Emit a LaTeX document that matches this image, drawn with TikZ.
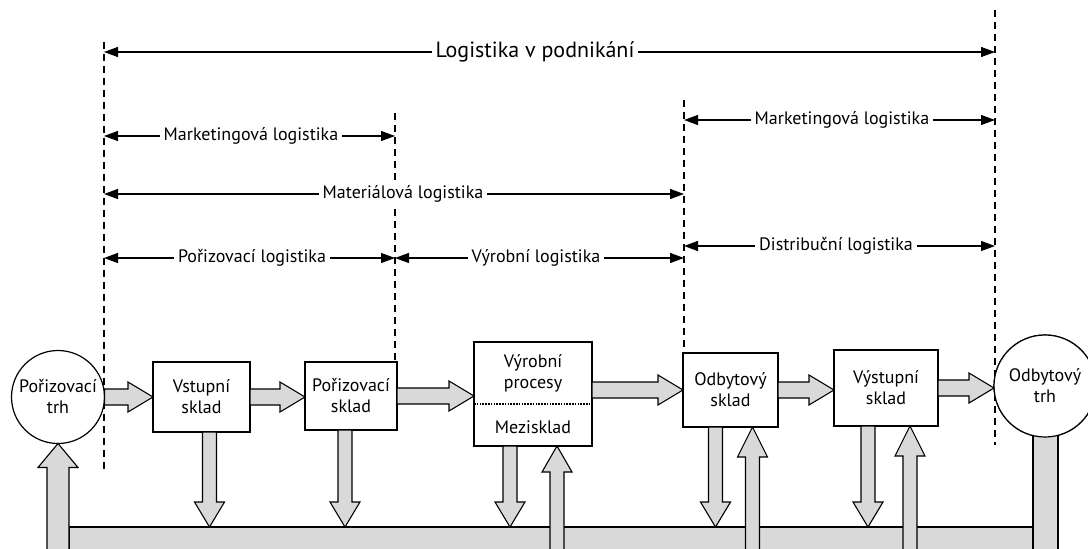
\documentclass[tikz,border=0pt]{standalone}
\usepackage{fontspec}
\setmainfont{PT Sans}
\usetikzlibrary{arrows.meta,calc,positioning}
\definecolor{cffffff}{RGB}{255,255,255}
\definecolor{cd9d9d9}{RGB}{217,217,217}

\newcommand{\fatarrow}[5]{%
  \coordinate (fas) at (#1); \coordinate (fae) at (#2);
  \coordinate (fab) at ($(fae)!#5!(fas)$);
  \path[fat]
  ($(fas)!#3!90:(fae)$) -- ($(fab)!#3!90:(fae)$) -- ($(fab)!#4!90:(fae)$) --
  (fae) -- ($(fab)!#4!-90:(fae)$) -- ($(fab)!#3!-90:(fae)$) --
  ($(fas)!#3!-90:(fae)$) -- cycle;}

\begin{document}
\begin{tikzpicture}[x=1pt, y=-1pt, inner sep=0pt, outer sep=0pt,
  fat/.style={draw=black,fill=cd9d9d9,line width=1.1pt,line join=miter},
  sklad/.style={draw=black,fill=cffffff,line width=1.2pt,align=center,
    font=\fontsize{18}{21}\selectfont},
  trh/.style={circle,draw=black,fill=cffffff,line width=1.2pt,align=center,
    font=\fontsize{18}{21}\selectfont},
  dimlbl/.style={fill=cffffff,inner sep=4pt,font=\fontsize{18}{21}\selectfont},
  dim/.style={draw=black,line width=1.1pt,-{Triangle[length=14pt,width=10pt]}},
  vline/.style={draw=black,line width=1.1pt,dash pattern=on 7pt off 5pt}]
  \useasboundingbox (0,0) rectangle (1088,549);
  \coordinate (dA) at (104,0);
  \coordinate (dB) at (395,0);
  \coordinate (dC) at (684,0);
  \coordinate (dD) at (995,0);
  \coordinate (bartop) at (0,527);
  \coordinate (bot) at (0,580);
  \path[vline] (dA |- 0,42) -- (dA |- 0,470);
  \path[vline] (dB |- 0,113) -- (dB |- 0,362);
  \path[vline] (dC |- 0,100) -- (dC |- 0,353);
  \path[vline] (dD |- 0,10) -- (dD |- 0,445);

  \node[dimlbl,font=\fontsize{22}{26}\selectfont] (lvp) at (535,52) {Logistika v podnikání};
  \draw[dim] (lvp.west) -- (dA |- lvp.west);
  \draw[dim] (lvp.east) -- (dD |- lvp.east);
  \node[dimlbl] (mkl1) at (251,136) {Marketingová logistika};
  \draw[dim] (mkl1.west) -- (dA |- mkl1.west);
  \draw[dim] (mkl1.east) -- (dB |- mkl1.east);
  \node[dimlbl] (mkl2) at (842,120) {Marketingová logistika};
  \draw[dim] (mkl2.west) -- (dC |- mkl2.west);
  \draw[dim] (mkl2.east) -- (dD |- mkl2.east);
  \node[dimlbl] (mat) at (403,194) {Materiálová logistika};
  \draw[dim] (mat.west) -- (dA |- mat.west);
  \draw[dim] (mat.east) -- (dC |- mat.east);
  \node[dimlbl] (por) at (252,258) {Pořizovací logistika};
  \draw[dim] (por.west) -- (dA |- por.west);
  \draw[dim] (por.east) -- (dB |- por.east);
  \node[dimlbl] (vyrl) at (536,258) {Výrobní logistika};
  \draw[dim] (vyrl.west) -- (dB |- vyrl.west);
  \draw[dim] (vyrl.east) -- (dC |- vyrl.east);
  \node[dimlbl] (dis) at (836,246) {Distribuční logistika};
  \draw[dim] (dis.west) -- (dC |- dis.west);
  \draw[dim] (dis.east) -- (dD |- dis.east);

  \node[trh,minimum size=93pt] (trhA) at (58,397) {Pořizovací\\trh};
  \node[trh,minimum size=102pt] (trhB) at (1045,386) {Odbytový\\trh};
  \node[sklad,minimum width=97pt,minimum height=70pt] (vst) at (201.5,397) {Vstupní\\sklad};
  \node[sklad,minimum width=92pt,minimum height=68pt] (pors) at (351,396) {Pořizovací\\sklad};
  \node[sklad,minimum width=118pt,minimum height=104pt] (vyr) at (533,394) {};
  \node[sklad,draw=none,fill=none] (vyrA) at (533,373) {Výrobní\\procesy};
  \node[sklad,draw=none,fill=none] (vyrB) at (533,427) {Mezisklad};
  \draw[line width=1.6pt,dash pattern=on 1.6pt off 1.2pt] (vyr.west |- 0,404) -- (vyr.east |- 0,404);
  \node[sklad,minimum width=95pt,minimum height=74pt] (odb) at (730.5,390) {Odbytový\\sklad};
  \node[sklad,minimum width=104pt,minimum height=76pt] (vys) at (886,388) {Výstupní\\sklad};

  \path[fat] (69,527) rectangle (1035,580);
  \path[fat] ($(trhB.south)+(-12,-4)$) rectangle ($(trhB.south |- bot)+(13,0)$);
  \node[trh,minimum size=102pt] at (trhB) {Odbytový\\trh};
  \fatarrow{trhA.south |- bot}{trhA.south}{11pt}{20pt}{24pt}

  \fatarrow{trhA.east}{trhA.east -| vst.west}{8pt}{15pt}{25pt}
  \fatarrow{vst.east}{vst.east -| pors.west}{8pt}{15pt}{25pt}
  \fatarrow{pors.east}{pors.east -| vyr.west}{8pt}{15pt}{25pt}
  \fatarrow{vyr.east |- odb.west}{odb.west}{8pt}{15pt}{25pt}
  \fatarrow{odb.east}{odb.east -| vys.west}{8pt}{15pt}{25pt}
  \fatarrow{vys.east}{vys.east -| trhB.west}{8pt}{15pt}{25pt}

  \coordinate (d1) at ($(vst.south)+(8,0)$);
  \coordinate (d2) at ($(pors.south)+(-6,0)$);
  \coordinate (d3) at ($(vyr.south)+(-23,0)$);
  \coordinate (d4) at ($(odb.south)+(-15,0)$);
  \coordinate (d5) at ($(vys.south)+(-18,0)$);
  \coordinate (u3) at ($(vyr.south)+(24,0)$);
  \coordinate (u4) at ($(odb.south)+(22,0)$);
  \coordinate (u5) at ($(vys.south)+(24,0)$);
  \fatarrow{d1}{d1 |- bartop}{7pt}{15pt}{25pt}
  \fatarrow{d2}{d2 |- bartop}{7pt}{15pt}{25pt}
  \fatarrow{d3}{d3 |- bartop}{7pt}{15pt}{25pt}
  \fatarrow{d4}{d4 |- bartop}{7pt}{15pt}{25pt}
  \fatarrow{d5}{d5 |- bartop}{7pt}{15pt}{25pt}
  \fatarrow{u3 |- bot}{u3}{7pt}{15pt}{26pt}
  \fatarrow{u4 |- bot}{u4}{7pt}{15pt}{30pt}
  \fatarrow{u5 |- bot}{u5}{7pt}{15pt}{30pt}
\end{tikzpicture}
\end{document}
